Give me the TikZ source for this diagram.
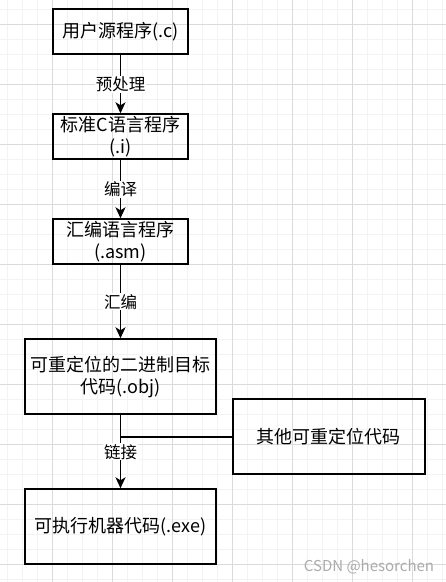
\documentclass[tikz,border=0pt]{standalone}
\usepackage{fontspec}
\setmainfont{Noto Sans CJK SC}
\usetikzlibrary{arrows.meta}
\definecolor{gridminor}{HTML}{F3F3F3}
\definecolor{gridmajor}{HTML}{DADADA}
\definecolor{markgray}{HTML}{ABABAB}
\begin{document}
\begin{tikzpicture}[x=1bp,y=-1bp,
		box/.style={draw,line width=2bp,align=center,inner sep=0pt,font=\fontsize{18bp}{22bp}\selectfont},
		flow/.style={line width=1.5bp,-{Stealth[length=11bp,width=10bp,inset=3bp]}},
		lbl/.style={fill=white,inner sep=1bp,font=\fontsize{16.5bp}{20bp}\selectfont}]
			\useasboundingbox (0,0) rectangle (446,582);

			\foreach \x in {7.5,22.5,...,446} \draw[gridminor,line width=1bp] (\x,0) -- (\x,582);
			\foreach \y in {9.3,24.3,...,582} \draw[gridminor,line width=1bp] (0,\y) -- (446,\y);
			\foreach \x in {52.5,112.5,...,446} \draw[gridmajor,line width=1bp] (\x,0) -- (\x,582);
			\foreach \y in {24.3,84.3,...,582} \draw[gridmajor,line width=1bp] (0,\y) -- (446,\y);

			\node[box,minimum width=135bp,minimum height=45bp] (src) at (120.5,31.8) {用户源程序(.c)};
			\node[box,minimum width=135bp,minimum height=45bp] (pre) at (120.5,136.8) {标准C语言程序\\(.i)};
			\node[box,minimum width=135bp,minimum height=45bp] (asm) at (120.5,241.8) {汇编语言程序\\(.asm)};
			\node[box,minimum width=191bp,minimum height=75bp] (obj) at (120.5,376.8) {可重定位的二进制目标\\代码(.obj)};
			\node[box,minimum width=192bp,minimum height=75bp] (other) at (328.5,436.8) {其他可重定位代码};
			\node[box,minimum width=191bp,minimum height=75bp] (exe) at (120.5,526.8) {可执行机器代码(.exe)};
			\node[text=markgray,font=\fontsize{15bp}{18bp}\selectfont] (mark) at (369,567) {CSDN @hesorchen};

			\draw[flow] (src) to node[lbl]{预处理} (pre);
			\draw[flow] (pre) to node[lbl]{编译} (asm);
			\draw[flow] (asm) to node[lbl]{汇编} (obj);
			\coordinate (join) at (other.west -| obj.south);
			\draw[line width=1.5bp] (other.west) -- (join);
			\draw[flow] (obj) to node[lbl]{链接} (exe);
		\end{tikzpicture}
\end{document}
